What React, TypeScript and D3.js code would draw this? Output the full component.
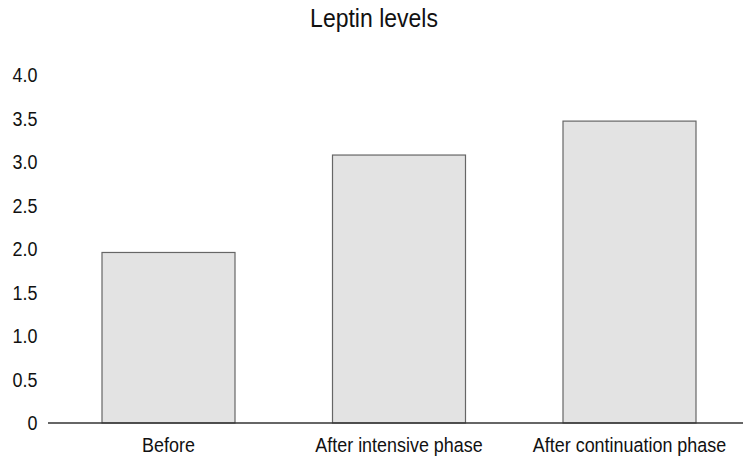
import React from "react";
import * as d3 from "d3";

const categories = ["Before", "After intensive phase", "After continuation phase"];
const values = [1.96, 3.08, 3.47];
const tickValues = [0, 0.5, 1.0, 1.5, 2.0, 2.5, 3.0, 3.5, 4.0];
const tickLabels = ["0", "0.5", "1.0", "1.5", "2.0", "2.5", "3.0", "3.5", "4.0"];
const title = "Leptin levels";

const W = 743;
const H = 466;
const FONT = "'Liberation Sans', Arial, Helvetica, sans-serif";
const SX = 0.92;

function Label({
  x,
  y,
  anchor,
  size,
  dy,
  children,
}: {
  x: number;
  y: number;
  anchor: "start" | "middle" | "end";
  size: number;
  dy?: string;
  children: React.ReactNode;
}) {
  return (
    <g transform={`translate(${x},${y}) scale(${SX},1)`}>
      <text
        x={0}
        y={0}
        dy={dy}
        textAnchor={anchor}
        fontFamily={FONT}
        fontSize={size}
        fill="#111"
      >
        {children}
      </text>
    </g>
  );
}

export default function App() {
  const x = d3
    .scaleBand<string>()
    .domain(categories)
    .range([53.25, 744.75])
    .paddingInner(0.423)
    .paddingOuter(0.2115);
  const y = d3.scaleLinear().domain([0, 4]).range([423, 75]);

  return (
    <svg
      width={W}
      height={H}
      style={{ position: "absolute", left: 0, top: 0, background: "#fff" }}
    >
      <Label x={374} y={27} anchor="middle" size={25}>
        {title}
      </Label>
      {tickValues.map((v, i) => (
        <Label key={v} x={37.5} y={y(v)} dy="0.36em" anchor="end" size={19.5}>
          {tickLabels[i]}
        </Label>
      ))}
      {categories.map((c, i) => (
        <rect
          key={c}
          x={x(c)!}
          y={y(values[i])}
          width={x.bandwidth()}
          height={y(0) - y(values[i])}
          fill="#e3e3e3"
          stroke="#666"
          strokeWidth={1.2}
        />
      ))}
      <line x1={48} x2={743} y1={y(0)} y2={y(0)} stroke="#333" strokeWidth={1.5} />
      {categories.map((c) => (
        <Label key={c} x={x(c)! + x.bandwidth() / 2} y={452} anchor="middle" size={19.5}>
          {c}
        </Label>
      ))}
    </svg>
  );
}
